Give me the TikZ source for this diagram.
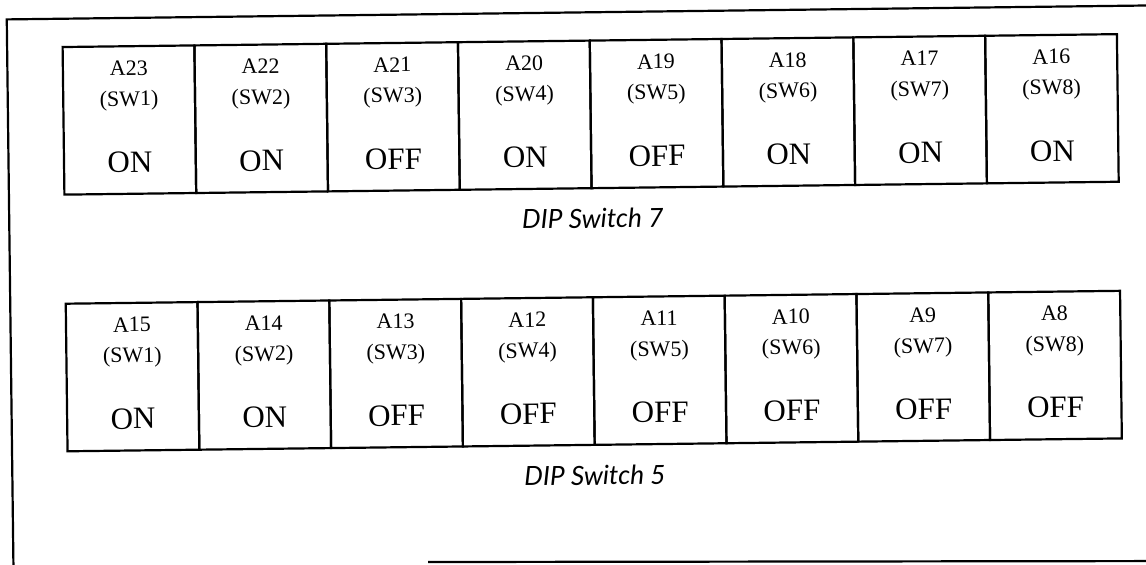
\documentclass[tikz,border=0pt]{standalone}
\usepackage{fontspec}
\setmainfont{Liberation Serif}
\newfontfamily\capfont{Lato}
\begin{document}
\begin{tikzpicture}[x=0.5pt,y=-0.5pt,line width=1.1pt,
  cellbox/.style={draw,rectangle,minimum width=65.9pt,minimum height=73.8pt,inner sep=0pt,outer sep=0pt,anchor=north west,transform shape},
  addr/.style={font=\fontsize{11}{13}\selectfont,anchor=base,inner sep=0pt,transform shape},
  state/.style={font=\fontsize{15.5}{18}\selectfont,anchor=base,inner sep=0pt,transform shape},
  captext/.style={font=\capfont\itshape\fontsize{13.2}{15}\selectfont,anchor=base,inner sep=0pt,transform shape}]
\useasboundingbox (0,0) rectangle (1146,564);
\clip (0,0) rectangle (1146,564);
\begin{scope}[rotate around={0.7:(573,282)}]
  % outer frame (partly cut by the scan)
  \coordinate (ftl) at (10,12.5);
  \coordinate (ftr) at (1300,12.5);
  \coordinate (fbl) at (10,700);
  \draw (ftr) -- (ftl) -- (fbl);
  % DIP switch 7
  \foreach \lab/\sw/\st [count=\i] in {A23/1/ON,A22/2/ON,A21/3/OFF,A20/4/ON,A19/5/OFF,A18/6/ON,A17/7/ON,A16/8/ON}{
    \node[cellbox] (sa\i) at ({65.5+(\i-1)*131.8},40.8) {};
    \node[addr] (sa\i-lab) at ({65.5+(\i-0.5)*131.8},69.8) {\lab};
    \node[addr] (sa\i-sw) at ({65.5+(\i-0.5)*131.8},100.5) {(SW\sw)};
    \node[state] (sa\i-st) at ({65.5+(\i-0.5)*131.8},167) {\st};
  }
  \node[captext] (capA) at (593.5,228.2) {DIP Switch 7};
  % DIP switch 5
  \foreach \lab/\sw/\st [count=\i] in {A15/1/ON,A14/2/ON,A13/3/OFF,A12/4/OFF,A11/5/OFF,A10/6/OFF,A9/7/OFF,A8/8/OFF}{
    \node[cellbox] (sb\i) at ({65.5+(\i-1)*131.8},297.5) {};
    \node[addr] (sb\i-lab) at ({65.5+(\i-0.5)*131.8},326.5) {\lab};
    \node[addr] (sb\i-sw) at ({65.5+(\i-0.5)*131.8},357.2) {(SW\sw)};
    \node[state] (sb\i-st) at ({65.5+(\i-0.5)*131.8},423.5) {\st};
  }
  \node[captext] (capB) at (592.5,485.3) {DIP Switch 5};
\end{scope}
% bottom edge of the frame, as the scan shows it
\coordinate (fbm) at (428,562);
\coordinate (fbr) at (1200,561);
\draw (fbm) -- (fbr);
\end{tikzpicture}
\end{document}
